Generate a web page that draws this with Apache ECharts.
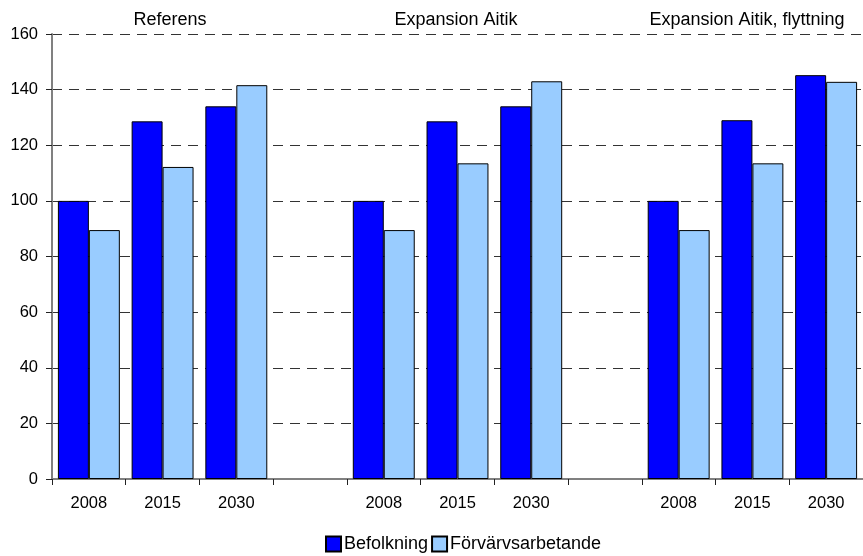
<!DOCTYPE html>
<html>
<head>
<meta charset="utf-8">
<script src="https://cdn.jsdelivr.net/npm/echarts@6/dist/echarts.min.js"></script>
<style>
html,body{margin:0;padding:0;background:#fff;}
#chart{width:863px;height:556px;}
</style>
</head>
<body>
<div id="chart"></div>
<script>
var categories = ['2008','2015','2030','','2008','2015','2030','','2008','2015','2030'];
var groups = ['Referens','Expansion Aitik','Expansion Aitik, flyttning'];
var befolkning = [100, 128.6, 134.0, null, 100, 128.6, 134.0, null, 100, 129.0, 145.2];
var forvarvs = [89.5, 112.2, 141.6, null, 89.5, 113.5, 143.0, null, 89.5, 113.5, 142.8];
var seriesNames = ['Befolkning','Förvärvsarbetande'];

var FONT = '"Liberation Sans", Arial, sans-serif';
var FS = 16.5;
var FS_BIG = 18;
var groupX = [170, 456, 747];

var chart = echarts.init(document.getElementById('chart'), null, {renderer:'canvas'});
chart.setOption({
  animation: false,
  backgroundColor: '#fff',
  grid: {left: 52, top: 34, bottom: 77, right: -5, containLabel: false},
  legend: {
    data: seriesNames,
    bottom: 3,
    left: 325,
    padding: 0,
    itemWidth: 15,
    itemHeight: 15,
    itemGap: 3,
    textStyle: {fontFamily: FONT, fontSize: FS_BIG, color: '#000', padding: [0,0,0,-2]},
    icon: 'rect'
  },
  graphic: groups.map(function(g, i){
    return {type:'text', x: groupX[i], y: 11, style:{text:g, fill:'#000', font: FS_BIG + 'px ' + FONT, textAlign:'center'}};
  }),
  xAxis: {
    type: 'category',
    data: categories,
    axisLine: {lineStyle: {color: '#808080', width: 2}},
    axisTick: {show: true, length: 6, lineStyle: {color: '#222', width: 1}},
    axisLabel: {fontFamily: FONT, fontSize: FS, color: '#000', margin: 16, interval: 0},
    splitLine: {show: false}
  },
  yAxis: {
    type: 'value',
    min: 0, max: 160, interval: 20,
    axisLine: {show: true, lineStyle: {color: '#808080', width: 2}},
    axisTick: {show: true, length: 6, lineStyle: {color: '#222', width: 1}},
    axisLabel: {fontFamily: FONT, fontSize: FS, color: '#000', margin: 14},
    splitLine: {show: true, lineStyle: {color: '#333', type: [10, 7], width: 1}}
  },
  series: [
    {name: seriesNames[0], type: 'bar', data: befolkning, barGap: '0%', barCategoryGap: '16%',
     itemStyle: {color: '#0000FF', borderColor: '#000', borderWidth: 1}},
    {name: seriesNames[1], type: 'bar', data: forvarvs, barGap: '0%', barCategoryGap: '16%',
     itemStyle: {color: '#99CCFF', borderColor: '#000', borderWidth: 1}}
  ]
});
</script>
</body>
</html>
